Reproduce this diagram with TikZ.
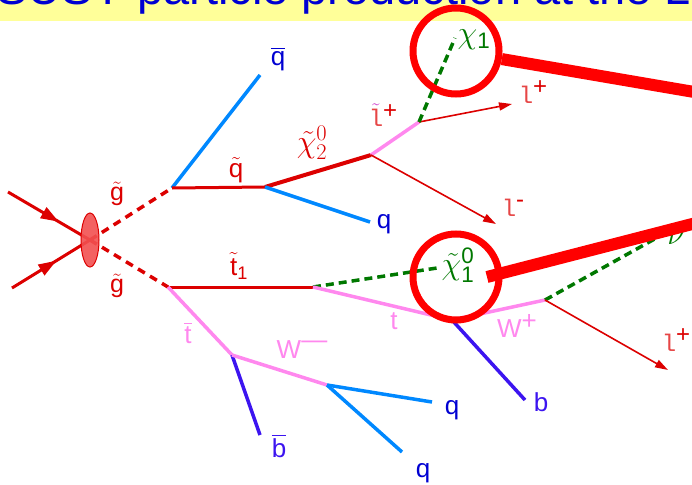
\RequirePackage{fix-cm}
\documentclass[tikz,border=0pt]{standalone}
\usepackage{amsmath}
\usepackage{fontspec}
\setmainfont{Liberation Sans}
\newfontfamily\monof{Liberation Mono}
\usetikzlibrary{arrows.meta,decorations.markings,shapes.geometric}
\definecolor{dred}{RGB}{220,0,0}
\definecolor{cred}{RGB}{255,0,0}
\definecolor{pinkc}{RGB}{255,136,238}
\definecolor{lblue}{RGB}{0,136,255}
\definecolor{bviol}{RGB}{60,20,240}
\definecolor{dgreen}{RGB}{0,120,0}
\definecolor{tblue}{RGB}{0,0,210}
\definecolor{lred}{RGB}{230,70,70}
\definecolor{tmag}{RGB}{200,40,200}
\definecolor{band}{RGB}{255,255,153}
\definecolor{blobfill}{RGB}{242,80,80}
\tikzset{
  redl/.style={draw=dred, line width=3pt},
  redthick/.style={draw=dred, line width=4pt},
  pinkl/.style={draw=pinkc, line width=3.5pt},
  bluel/.style={draw=lblue, line width=3.5pt},
  violl/.style={draw=bviol, line width=3.5pt},
  gdash/.style={draw=dgreen, line width=3.5pt, dash pattern=on 8pt off 5pt},
  rdash/.style={draw=dred, line width=3.5pt, dash pattern=on 8pt off 6pt},
  larrow/.style={draw=dred, line width=1.6pt, -{Triangle[length=13pt,width=8pt]}},
  inarrow/.style={draw=dred, line width=3pt, postaction={decorate},
    decoration={markings, mark=at position #1 with {\arrow{Triangle[length=18pt,width=12pt]}}}},
  ring/.style={circle, draw=cred, line width=7pt, minimum size=86pt, inner sep=0pt},
  pointer/.style={draw=cred, line width=12pt},
  lab/.style={inner sep=0pt, font=\fontsize{26}{30}\selectfont},
  biglab/.style={inner sep=0pt, font=\fontsize{32}{36}\selectfont},
  glab/.style={inner sep=0pt, font=\fontsize{25}{29}\selectfont},
  llab/.style={inner sep=0pt, font=\fontsize{24}{28}\selectfont},
}
\begin{document}
\begin{tikzpicture}[x=1pt,y=-1pt]
\useasboundingbox (0,0) rectangle (692,484);
% title band
\begin{scope}
  \clip (0,0) rectangle (692,484);
  \fill[band] (0,0) rectangle (692,21);
  \node[anchor=south west, inner sep=0pt, text=tblue, font=\fontsize{47}{50}\selectfont] (title) at (-4,14) {SUSY particle production at the LHC};
\end{scope}
% coordinates
\coordinate (in1) at (8,192);
\coordinate (in2) at (12,288);
\coordinate (gA) at (172,188);
\coordinate (gB) at (168,287);
\coordinate (qbarE) at (260,75);
\coordinate (sq) at (265,187);
\coordinate (chi2) at (371,155);
\coordinate (qE) at (370,222);
\coordinate (slep) at (419,122);
\coordinate (lpE) at (512,104);
\coordinate (lmE) at (496,224);
\coordinate (chiTop) at (455,38);
\coordinate (st) at (313,287);
\coordinate (chiB) at (437,268);
\coordinate (tv) at (452,320);
\coordinate (wv) at (545,300);
\coordinate (nuE) at (660,236);
\coordinate (lp2E) at (668,370);
\coordinate (bE) at (525,400);
\coordinate (tbv) at (232,355);
\coordinate (bbE) at (260,435);
\coordinate (wmv) at (327,385);
\coordinate (q1E) at (432,402);
\coordinate (q2E) at (402,452);
\coordinate (pB0) at (487,277);
\coordinate (pT1) at (700,93);
\coordinate (pB1) at (700,222);
% incoming
\node[ellipse, minimum width=18pt, minimum height=54pt, inner sep=0pt] (blob) at (90,240) {};
\draw[inarrow=0.62] (in1) -- (blob.center);
\draw[inarrow=0.57] (in2) -- (blob.center);
\draw[rdash] (blob.center) -- (gA);
\draw[rdash] (blob.center) -- (gB);
\node[ellipse, minimum width=18pt, minimum height=54pt, inner sep=0pt, fill=blobfill, fill opacity=0.9, draw=dred, line width=1pt] (blobdraw) at (90,240) {};
% upper branch
\draw[bluel] (gA) -- (qbarE);
\draw[redl] (gA) -- (sq);
\draw[redthick] (sq) -- (chi2);
\draw[bluel] (sq) -- (qE);
\draw[pinkl] (chi2) -- (slep);
\draw[larrow] (slep) -- (lpE);
\draw[larrow] (chi2) -- (lmE);
\draw[gdash] (slep) -- (chiTop);
% lower branch
\draw[redl] (gB) -- (st);
\draw[gdash] (st) -- (chiB);
\draw[pinkl] (st) -- (tv);
\draw[violl] (tv) -- (bE);
\draw[pinkl] (tv) -- (wv);
\draw[gdash] (wv) -- (nuE);
\draw[larrow] (wv) -- (lp2E);
\draw[pinkl] (gB) -- (tbv);
\draw[violl] (tbv) -- (bbE);
\draw[pinkl] (tbv) -- (wmv);
\draw[bluel] (wmv) -- (q1E);
\draw[bluel] (wmv) -- (q2E);
% labels
\node[glab, text=dred] (gAL) at (117,194) {$\tilde{\text{g}}$};
\node[glab, text=dred] (gBL) at (117,286) {$\tilde{\text{g}}$};
\node[lab, text=tblue] (qbarL) at (278,59) {$\overline{\text{q}}$};
\node[lab, text=dred] (sqL) at (236,170) {$\tilde{\text{q}}$};
\node[biglab, text=dred] (chi2L) at (312,143) {$\tilde{\chi}^{0}_{2}$};
\node[lab, text=tblue] (qL) at (384,224) {q};
\node[llab] (slepL) at (383,115) {{\color{tmag}$\tilde{\textcolor{lred}{\text{\monof l}}}$}\textcolor{dred}{\raisebox{8pt}{+}}};
\node[llab, text=lred] (lpL) at (533,92) {{\monof l}\textcolor{dred}{\raisebox{9pt}{+}}};
\node[llab, text=lred] (lmL) at (513,208) {{\monof l}\textcolor{dred}{\raisebox{9pt}{-}}};
\node[biglab, text=dgreen] (chiTL) at (474,40) {$\chi_{\text{1}}$};
\node[lab, text=dred] (stL) at (239,266) {$\tilde{\text{t}}_{\text{1}}$};
\node[biglab, text=dgreen] (chiBL) at (458,265) {$\tilde{\chi}^{\text{0}}_{\text{1}}$};
\node[lab, text=pinkc] (tL) at (394,321) {t};
\node[lab, text=pinkc] (wpL) at (517,326) {W\raisebox{8pt}{+}};
\node[biglab, text=dgreen] (nuL) at (676,238) {$\nu$};
\node[llab, text=lred] (lp2L) at (676,340) {{\monof l}\textcolor{dred}{\raisebox{9pt}{+}}};
\node[lab, text=bviol] (bL) at (541,402) {b};
\node[lab, text=tblue] (q1L) at (452,410) {q};
\node[lab, text=tblue] (q2L) at (423,473) {q};
\node[lab, text=bviol] (bbL) at (279,446) {$\overline{\text{b}}$};
\node[lab, text=pinkc] (wmL) at (302,350) {W\raisebox{10pt}{—}};
\node[lab, text=pinkc] (tbL) at (188,333) {$\overline{\text{t}}$};
% highlight rings and pointers
\node[ring] (cT) at (456,51) {};
\node[ring] (cB) at (456,277) {};
\draw[pointer] (cT.-10) -- (pT1);
\draw[pointer] (pB0) -- (pB1);
\end{tikzpicture}
\end{document}
